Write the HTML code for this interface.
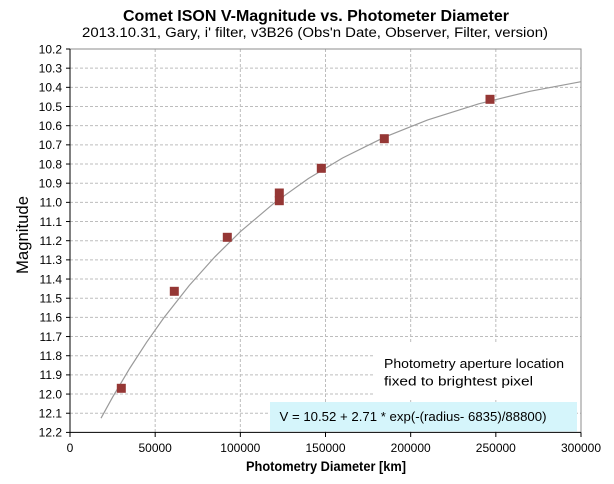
<!DOCTYPE html>
<html>
<head>
<meta charset="utf-8">
<style>
  html,body{margin:0;padding:0;background:#fff;}
  svg{display:block;}
  text{font-family:"Liberation Sans",Arial,sans-serif;fill:#000;}
</style>
</head>
<body>
<svg width="614" height="484" viewBox="0 0 614 484" xmlns="http://www.w3.org/2000/svg">
  <rect x="0" y="0" width="614" height="484" fill="#fff"/>

  <!-- Title -->
  <text x="316" y="21" font-size="15.5" font-weight="bold" text-anchor="middle" textLength="386" lengthAdjust="spacingAndGlyphs">Comet ISON V-Magnitude vs. Photometer Diameter</text>
  <text x="315" y="37" font-size="13.5" text-anchor="middle" textLength="466" lengthAdjust="spacingAndGlyphs">2013.10.31,  Gary, i' filter, v3B26 (Obs'n Date, Observer, Filter, version)</text>

  <!-- horizontal gridlines -->
  <g stroke="#bdbdbd" stroke-width="1" stroke-dasharray="3,2" fill="none">
    <line x1="70" x2="581" y1="68.17" y2="68.17"/>
    <line x1="70" x2="581" y1="87.34" y2="87.34"/>
    <line x1="70" x2="581" y1="106.51" y2="106.51"/>
    <line x1="70" x2="581" y1="125.68" y2="125.68"/>
    <line x1="70" x2="581" y1="144.85" y2="144.85"/>
    <line x1="70" x2="581" y1="164.02" y2="164.02"/>
    <line x1="70" x2="581" y1="183.19" y2="183.19"/>
    <line x1="70" x2="581" y1="202.36" y2="202.36"/>
    <line x1="70" x2="581" y1="221.53" y2="221.53"/>
    <line x1="70" x2="581" y1="240.70" y2="240.70"/>
    <line x1="70" x2="581" y1="259.87" y2="259.87"/>
    <line x1="70" x2="581" y1="279.04" y2="279.04"/>
    <line x1="70" x2="581" y1="298.21" y2="298.21"/>
    <line x1="70" x2="581" y1="317.38" y2="317.38"/>
    <line x1="70" x2="581" y1="336.55" y2="336.55"/>
    <line x1="70" x2="581" y1="355.72" y2="355.72"/>
    <line x1="70" x2="581" y1="374.89" y2="374.89"/>
    <line x1="70" x2="581" y1="394.06" y2="394.06"/>
    <line x1="70" x2="581" y1="413.23" y2="413.23"/>
    <!-- vertical gridlines -->
    <line y1="49" y2="432.4" x1="155.17" x2="155.17"/>
    <line y1="49" y2="432.4" x1="240.33" x2="240.33"/>
    <line y1="49" y2="432.4" x1="325.5" x2="325.5"/>
    <line y1="49" y2="432.4" x1="410.67" x2="410.67"/>
    <line y1="49" y2="432.4" x1="495.83" x2="495.83"/>
  </g>

  <!-- top/right border -->
  <polyline points="70,49 581,49 581,432.4" fill="none" stroke="#8c8c8c" stroke-width="1"/>

  <!-- white annotation box -->
  <rect x="373" y="344" width="207.5" height="56" fill="#fff"/>
  <text x="384" y="368" font-size="13" textLength="180" lengthAdjust="spacingAndGlyphs">Photometry aperture location</text>
  <text x="384" y="385.5" font-size="13" textLength="149" lengthAdjust="spacingAndGlyphs">fixed to brightest pixel</text>

  <!-- cyan formula box -->
  <rect x="270" y="402" width="307" height="29.5" fill="#d5f5fb"/>
  <text x="279.5" y="421" font-size="13" textLength="267" lengthAdjust="spacingAndGlyphs">V = 10.52  + 2.71 * exp(-(radius- 6835)/88800)</text>

  <!-- fitted curve -->
  <polyline fill="none" stroke="#9a9a9a" stroke-width="1.2"
    points="101.0,418.2 112.58,397.2 129.62,368.5 146.65,342.2 163.68,318.0 189.23,285.5 214.78,256.9 240.33,231.7 274.40,202.8 308.46,178.5 342.53,158.0 385.11,136.9 427.69,119.9 478.79,103.8 529.89,91.3 581.0,81.7"/>

  <!-- data points -->
  <g fill="#953735">
    <rect x="116.8" y="383.8" width="9" height="9"/>
    <rect x="169.8" y="286.8" width="9" height="9"/>
    <rect x="222.8" y="232.8" width="9" height="9"/>
    <rect x="274.8" y="188.5" width="9" height="9"/>
    <rect x="274.8" y="196.2" width="9" height="9"/>
    <rect x="316.8" y="163.8" width="9" height="9"/>
    <rect x="379.8" y="134.2" width="9" height="9"/>
    <rect x="485.5" y="94.8" width="9" height="9"/>
  </g>

  <!-- axes -->
  <g stroke="#000" stroke-width="1" fill="none">
    <line x1="70" y1="49" x2="70" y2="432.4"/>
    <line x1="70" y1="432.4" x2="581" y2="432.4"/>
    <!-- y ticks -->
    <line x1="66" x2="70" y1="49" y2="49"/>
    <line x1="66" x2="70" y1="68.17" y2="68.17"/>
    <line x1="66" x2="70" y1="87.34" y2="87.34"/>
    <line x1="66" x2="70" y1="106.51" y2="106.51"/>
    <line x1="66" x2="70" y1="125.68" y2="125.68"/>
    <line x1="66" x2="70" y1="144.85" y2="144.85"/>
    <line x1="66" x2="70" y1="164.02" y2="164.02"/>
    <line x1="66" x2="70" y1="183.19" y2="183.19"/>
    <line x1="66" x2="70" y1="202.36" y2="202.36"/>
    <line x1="66" x2="70" y1="221.53" y2="221.53"/>
    <line x1="66" x2="70" y1="240.70" y2="240.70"/>
    <line x1="66" x2="70" y1="259.87" y2="259.87"/>
    <line x1="66" x2="70" y1="279.04" y2="279.04"/>
    <line x1="66" x2="70" y1="298.21" y2="298.21"/>
    <line x1="66" x2="70" y1="317.38" y2="317.38"/>
    <line x1="66" x2="70" y1="336.55" y2="336.55"/>
    <line x1="66" x2="70" y1="355.72" y2="355.72"/>
    <line x1="66" x2="70" y1="374.89" y2="374.89"/>
    <line x1="66" x2="70" y1="394.06" y2="394.06"/>
    <line x1="66" x2="70" y1="413.23" y2="413.23"/>
    <line x1="66" x2="70" y1="432.4" y2="432.4"/>
    <!-- x ticks -->
    <line x1="70" x2="70" y1="432.4" y2="437"/>
    <line x1="155.17" x2="155.17" y1="432.4" y2="437"/>
    <line x1="240.33" x2="240.33" y1="432.4" y2="437"/>
    <line x1="325.5" x2="325.5" y1="432.4" y2="437"/>
    <line x1="410.67" x2="410.67" y1="432.4" y2="437"/>
    <line x1="495.83" x2="495.83" y1="432.4" y2="437"/>
    <line x1="581" x2="581" y1="432.4" y2="437"/>
  </g>

  <!-- y tick labels -->
  <g font-size="12" text-anchor="end">
    <text x="62" y="53.3">10.2</text>
    <text x="62" y="72.5">10.3</text>
    <text x="62" y="91.6">10.4</text>
    <text x="62" y="110.8">10.5</text>
    <text x="62" y="130.0">10.6</text>
    <text x="62" y="149.2">10.7</text>
    <text x="62" y="168.3">10.8</text>
    <text x="62" y="187.5">10.9</text>
    <text x="62" y="206.7">11.0</text>
    <text x="62" y="225.8">11.1</text>
    <text x="62" y="245.0">11.2</text>
    <text x="62" y="264.2">11.3</text>
    <text x="62" y="283.3">11.4</text>
    <text x="62" y="302.5">11.5</text>
    <text x="62" y="321.7">11.6</text>
    <text x="62" y="340.9">11.7</text>
    <text x="62" y="360.0">11.8</text>
    <text x="62" y="379.2">11.9</text>
    <text x="62" y="398.4">12.0</text>
    <text x="62" y="417.5">12.1</text>
    <text x="62" y="436.7">12.2</text>
  </g>

  <!-- x tick labels -->
  <g font-size="12" text-anchor="middle">
    <text x="70" y="452">0</text>
    <text x="155.17" y="452">50000</text>
    <text x="240.33" y="452">100000</text>
    <text x="325.5" y="452">150000</text>
    <text x="410.67" y="452">200000</text>
    <text x="495.83" y="452">250000</text>
    <text x="581" y="452">300000</text>
  </g>

  <!-- axis titles -->
  <text x="326" y="471" font-size="13.5" font-weight="bold" text-anchor="middle" textLength="160" lengthAdjust="spacingAndGlyphs">Photometry Diameter  [km]</text>
  <text transform="translate(28,235) rotate(-90)" font-size="17" text-anchor="middle" textLength="78" lengthAdjust="spacingAndGlyphs">Magnitude</text>
</svg>
</body>
</html>
